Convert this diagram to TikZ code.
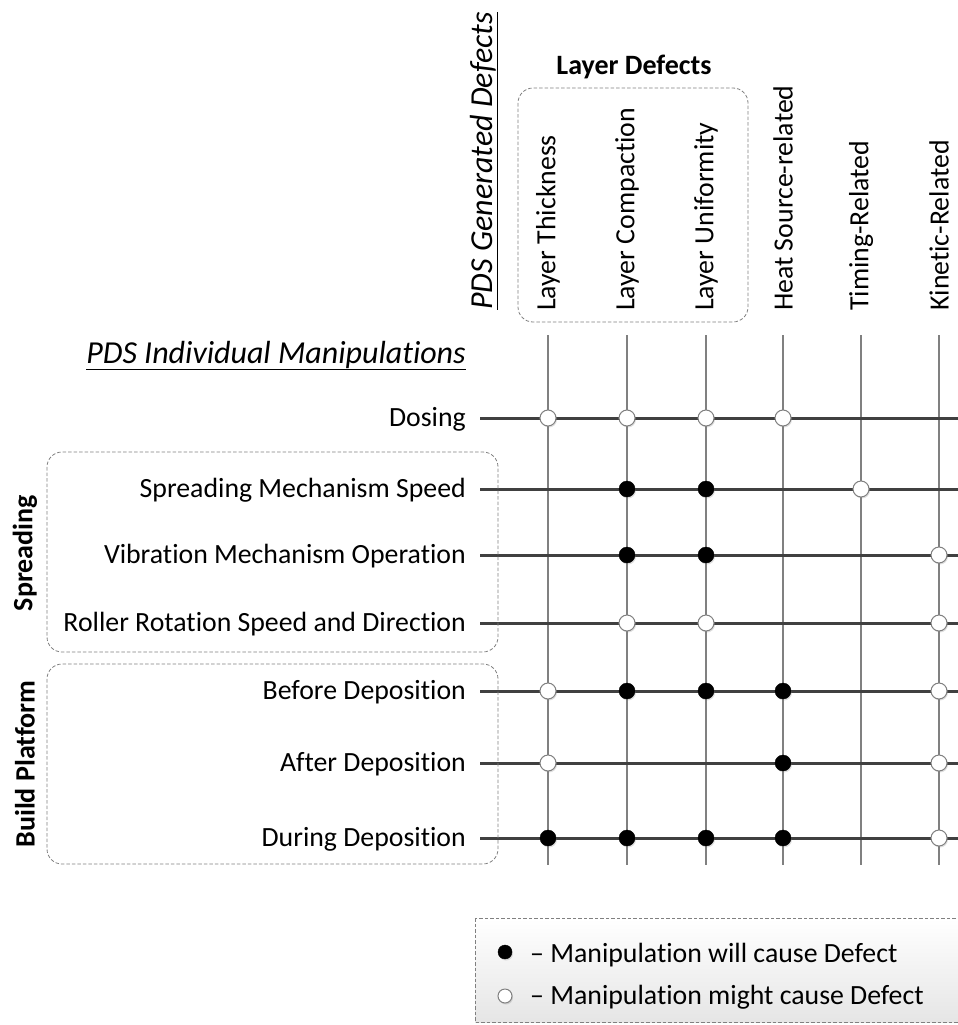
\documentclass[tikz,border=0pt]{standalone}
\usepackage{fontspec}
\setmainfont{Carlito}[Ligatures=NoCommon]
\usetikzlibrary{shadows}
\begin{document}
\begin{tikzpicture}[x=1pt,y=-1pt,
    every node/.style={inner sep=0pt,font=\fontsize{27.8}{32}\selectfont},
    collabel/.style={rotate=90,anchor=west},
    rowlabel/.style={anchor=base east},
    header/.style={font=\fontsize{32}{36}\selectfont\itshape},
    grouplabel/.style={rotate=90,font=\fontsize{28}{32}\selectfont\bfseries},
    groupbox/.style={draw=gray,line width=0.8pt,dash pattern=on 3.5pt off 2pt,rounded corners=15pt},
    colline/.style={draw=gray,line width=1.3pt},
    rowline/.style={draw=black!75,line width=3pt},
    will/.style={circle,draw=black,fill=black,minimum size=16pt,
        drop shadow={shadow xshift=1pt,shadow yshift=-1.5pt,opacity=0.25}},
    might/.style={circle,draw=gray,fill=white,line width=1pt,minimum size=16pt,
        drop shadow={shadow xshift=1pt,shadow yshift=-1.5pt,opacity=0.25}}]
                \useasboundingbox (0,0) rectangle (958,1025);
                %% defect columns
                \node[header,rotate=90,anchor=west] (gendef) at (484,310) {\underline{PDS Generated Defects}};
                \node[font=\fontsize{28}{32}\selectfont\bfseries] (layerdef) at (634,67) {Layer Defects};
                \draw[groupbox] (518,88) rectangle (748,322);
                \node[collabel] (thick) at (548,311) {Layer Thickness};
                \node[collabel] (compact) at (627,311) {Layer Compaction};
                \node[collabel] (uniform) at (706,311) {Layer Uniformity};
                \node[collabel] (heat) at (783,311) {Heat Source-related};
                \node[collabel] (timing) at (861,311) {Timing-Related};
                \node[collabel] (kinetic) at (939,311) {Kinetic-Related};
                \foreach \n/\x in {c1/548,c2/627,c3/706,c4/783,c5/861,c6/939} {
                    \coordinate (\n) at (\x,335);
                    \coordinate (\n-end) at (\x,865);
                    \draw[colline] (\n) -- (\n-end);
                }
                %% manipulation rows
                \node[header,anchor=base east] (indman) at (466,363) {\underline{PDS Individual Manipulations}};
                \node[rowlabel] (dosing) at (466,426) {Dosing};
                \node[rowlabel] (spreadspeed) at (466,497) {Spreading Mechanism Speed};
                \node[rowlabel] (vibration) at (466,563) {Vibration Mechanism Operation};
                \node[rowlabel] (roller) at (466,631) {Roller Rotation Speed and Direction};
                \node[rowlabel] (before) at (466,699) {Before Deposition};
                \node[rowlabel] (after) at (466,771) {After Deposition};
                \node[rowlabel] (during) at (466,846) {During Deposition};
                \foreach \n/\y in {r1/418,r2/489,r3/555,r4/623,r5/691,r6/763,r7/838} {
                    \coordinate (\n) at (480,\y);
                    \coordinate (\n-end) at (962,\y);
                    \draw[rowline] (\n) -- (\n-end);
                }
                %% groups
                \draw[groupbox] (47,452) rectangle (498,652);
                \node[grouplabel] (spreading) at (25,553) {Spreading};
                \draw[groupbox] (47,664) rectangle (498,864);
                \node[grouplabel] (platform) at (25,764) {Build Platform};
                %% dots
                \foreach \c in {c1,c2,c3,c4} \node[might] at (\c |- r1) {};
                \foreach \c in {c2,c3} \node[will] at (\c |- r2) {};
                \node[might] at (c5 |- r2) {};
                \foreach \c in {c2,c3} \node[will] at (\c |- r3) {};
                \node[might] at (c6 |- r3) {};
                \foreach \c in {c2,c3,c6} \node[might] at (\c |- r4) {};
                \foreach \c in {c2,c3,c4} \node[will] at (\c |- r5) {};
                \foreach \c in {c1,c6} \node[might] at (\c |- r5) {};
                \node[will] at (c4 |- r6) {};
                \foreach \c in {c1,c6} \node[might] at (\c |- r6) {};
                \foreach \c in {c1,c2,c3,c4} \node[will] at (\c |- r7) {};
                \node[might] at (c6 |- r7) {};
                %% legend
                \shade[top color=white,bottom color=black!10] (475,918) rectangle (966,1022);
                \draw[draw=gray,line width=0.8pt,dash pattern=on 3.5pt off 2pt] (475,918) rectangle (966,1022);
                \node[will,minimum size=14pt] (willkey) at (505,952) {};
                \node[might,minimum size=14pt] (mightkey) at (505,996) {};
                \node[anchor=base west] (willtext) at (530,962) {-- Manipulation will cause Defect};
                \node[anchor=base west] (mighttext) at (530,1004) {-- Manipulation might cause Defect};
            \end{tikzpicture}
\end{document}
